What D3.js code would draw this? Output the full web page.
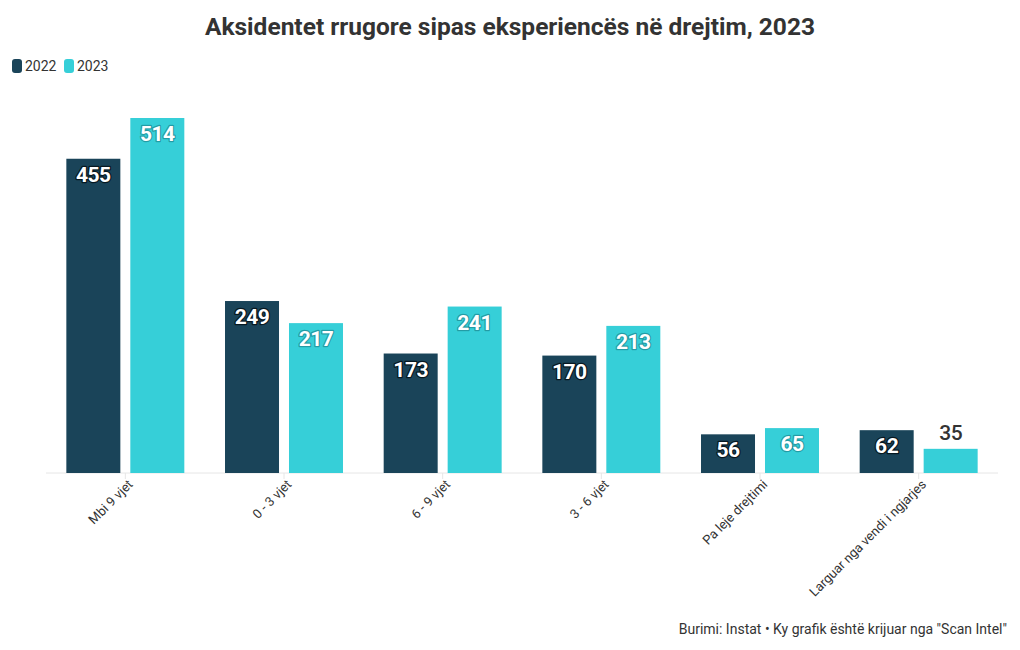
<!DOCTYPE html>
<html>
<head>
<meta charset="utf-8">
<script src="https://cdn.jsdelivr.net/npm/d3@7"></script>
<style>
  body { margin: 0; background: #fff; }
  svg { display: block; font-family: Roboto, "Noto Sans", sans-serif; }
</style>
</head>
<body>
<svg id="chart" width="1020" height="650"></svg>
<script>
const categories = ["Mbi 9 vjet", "0 - 3 vjet", "6 - 9 vjet", "3 - 6 vjet", "Pa leje drejtimi", "Larguar nga vendi i ngjarjes"];
const seriesNames = ["2022", "2023"];
const values2022 = [455, 249, 173, 170, 56, 62];
const values2023 = [514, 217, 241, 213, 65, 35];
const colors = ["#1a4459", "#36cfd8"];
const title = "Aksidentet rrugore sipas eksperiencës në drejtim, 2023";
const source = "Burimi: Instat • Ky grafik është krijuar nga \"Scan Intel\"";

const series = [values2022, values2023];
const svg = d3.select("#chart");
const W = 1020, H = 650;
const m = { left: 46, right: 22, top: 118, bottom: 177 };
const baseY = H - m.bottom;

const x0 = d3.scaleBand().domain(categories).range([m.left, W - m.right]).paddingInner(0).paddingOuter(0);
const x1 = d3.scaleBand().domain(seriesNames).range([0, x0.bandwidth()]).paddingInner(0.156).paddingOuter(0.318);
const y = d3.scaleLinear().domain([0, 514]).range([baseY, m.top]);

// title
svg.append("text").attr("x", 510).attr("y", 35).attr("text-anchor", "middle")
  .attr("font-size", 24.5).attr("font-weight", 700).attr("fill", "#333")
  .attr("letter-spacing", 0).text(title);

// legend
const leg = svg.append("g").attr("transform", "translate(12,59)");
seriesNames.forEach((s, i) => {
  const g = leg.append("g").attr("transform", `translate(${i * 52},0)`);
  g.append("rect").attr("width", 10).attr("height", 14).attr("rx", 3).attr("fill", colors[i]);
  g.append("text").attr("x", 13).attr("y", 12).attr("font-size", 14).attr("fill", "#333").text(s);
});

// baseline
svg.append("line").attr("x1", m.left).attr("x2", W - m.right).attr("y1", baseY).attr("y2", baseY)
  .attr("stroke", "#e6e6e6").attr("stroke-width", 1);

// x axis
const xAxis = svg.append("g").attr("transform", `translate(0,${baseY})`)
  .call(d3.axisBottom(x0).tickSize(6).tickSizeOuter(0));
xAxis.select(".domain").remove();
xAxis.selectAll(".tick line").attr("stroke", "#e6e6e6");
xAxis.selectAll(".tick text")
  .attr("font-size", 13).attr("fill", "#333").attr("font-family", "Roboto, sans-serif")
  .attr("text-anchor", "end")
  .attr("transform", "translate(5,9) rotate(-45)")
  .attr("dy", "0.35em").attr("y", 0).attr("x", 0);

// bars
const groups = svg.append("g").selectAll("g").data(categories).join("g")
  .attr("transform", d => `translate(${x0(d)},0)`);

groups.each(function(cat, ci) {
  const g = d3.select(this);
  seriesNames.forEach((s, si) => {
    const v = series[si][ci];
    const bx = x1(s), bw = x1.bandwidth();
    g.append("rect").attr("x", bx).attr("y", y(v)).attr("width", bw).attr("height", baseY - y(v))
      .attr("fill", colors[si]);
    const inside = (baseY - y(v)) > 30;
    const t = g.append("text").attr("x", bx + bw / 2).attr("text-anchor", "middle")
      .attr("font-size", 21).attr("font-weight", 700).attr("letter-spacing", -0.5).text(v);
    if (inside) {
      t.attr("y", y(v) + 23).attr("fill", "#fff")
        .attr("stroke", si === 0 ? "#071821" : "rgba(0,60,70,0.35)").attr("stroke-width", 2.5)
        .attr("paint-order", "stroke").attr("stroke-linejoin", "round");
    } else {
      t.attr("y", y(v) - 9).attr("fill", "#333").attr("font-weight", 500);
    }
  });
});

// source
svg.append("text").attr("x", 1007).attr("y", 634).attr("text-anchor", "end")
  .attr("font-size", 14).attr("fill", "#333").text(source);
</script>
</body>
</html>
